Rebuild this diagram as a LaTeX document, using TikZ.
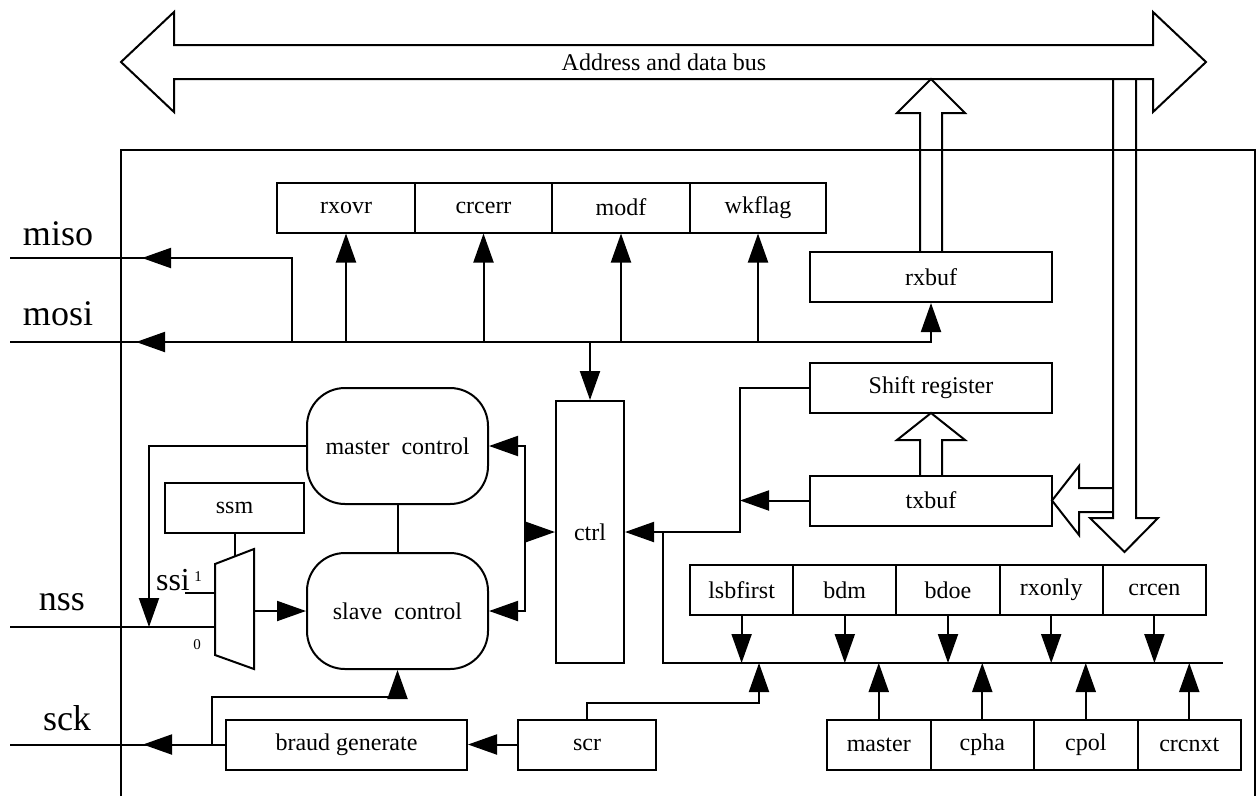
\documentclass[tikz,border=0pt]{standalone}
\usepackage{fontspec}
\setmainfont{Liberation Serif}
\usetikzlibrary{arrows.meta, positioning}

\begin{document}
\begin{tikzpicture}[x=1pt, y=-1pt, line width=2pt,
    reg node/.style={draw, rectangle, inner sep=0pt, minimum height=50pt, font=\fontsize{24}{26}\selectfont},
    ctl node/.style={draw, rounded corners=38pt, inner sep=0pt, minimum width=181pt, minimum height=116pt, font=\fontsize{24}{26}\selectfont},
    pin label/.style={anchor=base, font=\fontsize{36}{38}\selectfont},
    sig/.style={-{Triangle[length=29pt, width=20pt]}}]
  \useasboundingbox (0,0) rectangle (1257,796);

  % system bus and block frame
  \draw (121,62) -- (174,12) -- (174,45) -- (1153,45) -- (1153,12) -- (1206,62)
    -- (1153,112) -- (1153,79) -- (174,79) -- (174,112) -- cycle;
  \node[font=\fontsize{24}{26}\selectfont] (bus) at (664,62) {Address and data bus};
  \draw (121,796) -- (121,150) -- (1255,150) -- (1255,796);

  % status flags
  \node[reg node, minimum width=138pt] (rxovr) at (346,207.5) {rxovr};
  \node[reg node, minimum width=137pt] (crcerr) at (483.5,207.5) {crcerr};
  \node[reg node, minimum width=138pt] (modf) at (621,207.5) {modf};
  \node[reg node, minimum width=136pt] (wkflag) at (758,207.5) {wkflag};

  % data path
  \node[reg node, minimum width=242pt] (rxbuf) at (931,277) {rxbuf};
  \node[reg node, minimum width=242pt] (shift) at (931,388) {Shift register};
  \node[reg node, minimum width=242pt] (txbuf) at (931,500.5) {txbuf};
  \node[reg node, minimum width=68pt, minimum height=262pt] (ctrl) at (590,532) {ctrl};

  % control blocks
  \node[ctl node] (master ctl) at (397.5,446) {master\ \ control};
  \node[ctl node] (slave ctl) at (397.5,611) {slave\ \ control};
  \node[reg node, minimum width=139pt] (ssm) at (234.5,507.5) {ssm};
  \node[reg node, minimum width=241pt] (braud) at (346.5,744.5) {braud generate};
  \node[reg node, minimum width=138pt] (scr) at (587,744.5) {scr};

  % configuration bits
  \node[reg node, minimum width=103.2pt] (lsbfirst) at (741.6,590) {lsbfirst};
  \node[reg node, minimum width=103.2pt] (bdm) at (844.8,590) {bdm};
  \node[reg node, minimum width=103.2pt] (bdoe) at (948,590) {bdoe};
  \node[reg node, minimum width=103.2pt] (rxonly) at (1051.2,590) {rxonly};
  \node[reg node, minimum width=103.2pt] (crcen) at (1154.4,590) {crcen};
  \node[reg node, minimum width=103.5pt] (master) at (878.75,744.5) {master};
  \node[reg node, minimum width=103.5pt] (cpha) at (982.25,744.5) {cpha};
  \node[reg node, minimum width=103.5pt] (cpol) at (1085.75,744.5) {cpol};
  \node[reg node, minimum width=103.5pt] (crcnxt) at (1189.25,744.5) {crcnxt};

  % pins
  \coordinate (misoL) at (10,258);
  \coordinate (mosiL) at (10,342);
  \coordinate (nssL) at (10,627);
  \coordinate (sckL) at (10,744.5);
  \node[pin label] (miso) at (58,245) {miso};
  \node[pin label] (mosi) at (58,325) {mosi};
  \node[pin label] (nss) at (62,610) {nss};
  \node[pin label] (sck) at (67,730) {sck};

  % multiplexer
  \draw (215,564) -- (254,549) -- (254,669) -- (215,655) -- cycle;
  \coordinate (muxsel) at (234.5,556.5);
  \coordinate (muxin1) at (215,593);
  \coordinate (muxin0) at (215,627);
  \coordinate (muxout) at (254,611);
  \node[anchor=base, font=\fontsize{32}{34}\selectfont] (ssi) at (173,590) {ssi};
  \node[font=\fontsize{15}{16}\selectfont] (one) at (198,577) {1};
  \node[font=\fontsize{15}{16}\selectfont] (zero) at (197,645) {0};

  % mosi / miso lines
  \draw[sig] (mosiL) -| (rxbuf.south);
  \draw[sig] (170,342) -- (136,342);
  \draw (292,342) |- (misoL);
  \draw[sig] (176,258) -- (142,258);
  \foreach \f in {rxovr, crcerr, modf, wkflag}
    \draw[sig] (\f.south |- mosiL) -- (\f.south);
  \draw[sig] (ctrl.north |- mosiL) -- (ctrl.north);

  % bus arrows
  \draw (920,252) -- (920,113) -- (897,113) -- (931,79) -- (965,113) -- (942,113) -- (942,252);
  \draw (920,475) -- (920,440) -- (897,440) -- (931,413) -- (965,440) -- (942,440) -- (942,475);
  \draw (1113,79) -- (1113,518) -- (1090,518) -- (1124.5,552) -- (1158,518) -- (1136,518) -- (1136,79);
  \draw (1113,488) -- (1079,488) -- (1079,466) -- (1052,500.5) -- (1079,535) -- (1079,512) -- (1113,512);

  % ctrl connections
  \draw[{Triangle[length=29pt, width=20pt]}-{Triangle[length=29pt, width=20pt]}]
    (master ctl.east) -- ++(36,0) |- (slave ctl.east);
  \draw[sig] (524,532) -- (ctrl.west);
  \draw[sig] (shift.west) -- (740,388) -- (740,532) -- (ctrl.east);
  \draw[sig] (txbuf.west) -- (740,500.5);
  \coordinate (cbusL) at (663,663);
  \coordinate (cbusR) at (1223,663);
  \draw (663,532) -- (cbusL) -- (cbusR);
  \foreach \f in {lsbfirst, bdm, bdoe, rxonly, crcen}
    \draw[sig] (\f.south) -- (\f.south |- cbusL);
  \foreach \f in {master, cpha, cpol, crcnxt}
    \draw[sig] (\f.north) -- (\f.north |- cbusL);
  \draw[sig] (scr.north) |- (759,703) -- (759,663);

  % slave select and clock
  \draw (master ctl.south) -- (slave ctl.north);
  \draw[sig] (master ctl.west) -| (149,627);
  \draw (nssL) -- (muxin0);
  \draw (185,593) -- (muxin1);
  \draw (ssm.south) -- (muxsel);
  \draw[sig] (muxout) -- (slave ctl.west);
  \draw[sig] (scr.west) -- (braud.east);
  \draw (braud.west) -- (sckL);
  \draw[sig] (180,744.5) -- (143,744.5);
  \draw[sig] (212,744.5) -- (212,697) -| (slave ctl.south);
\end{tikzpicture}
\end{document}
